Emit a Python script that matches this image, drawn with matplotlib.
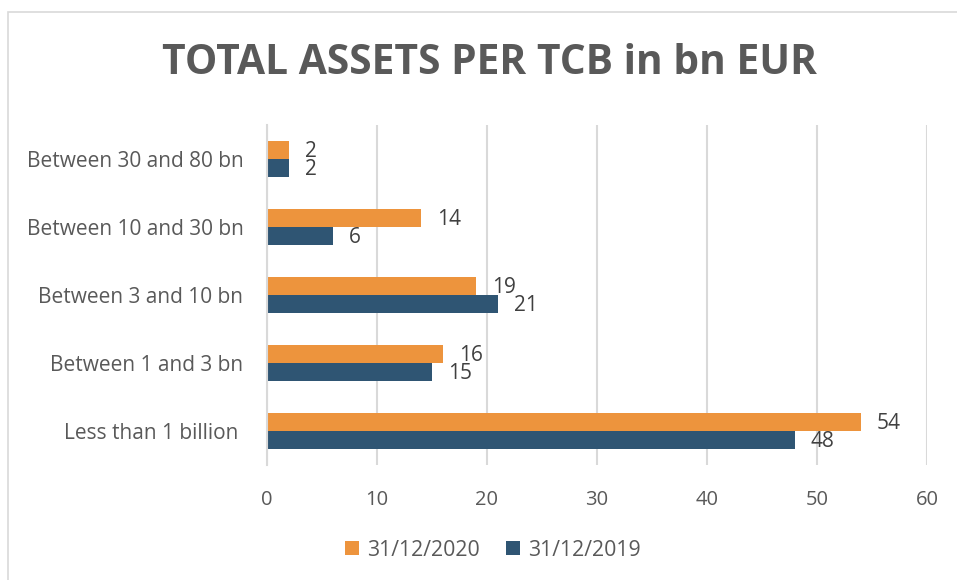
import matplotlib.pyplot as plt
import numpy as np
from matplotlib.patches import Rectangle

plt.rcParams["font.family"] = ["Open Sans", "DejaVu Sans"]

# Données (bn EUR)
categories = ["Less than 1 billion ", "Between 1 and 3 bn", "Between 3 and 10 bn",
              "Between 10 and 30 bn", "Between 30 and 80 bn"]
assets_2020 = [54, 16, 19, 14, 2]
assets_2019 = [48, 15, 21, 6, 2]
series_labels = ["31/12/2020", "31/12/2019"]
x_ticks = [0, 10, 20, 30, 40, 50, 60]

ORANGE = "#ED943D"
BLUE = "#2F5573"
GRID = "#D9D9D9"
TXT = "#595959"
LBL = "#404040"

fig = plt.figure(figsize=(9.57, 5.8), dpi=100)
ax = fig.add_axes([267 / 957, 1 - 465 / 580, 660 / 957, 340 / 580])

# cadre du graphique (bord gauche/haut visible)
fig.patches.append(Rectangle((8 / 957, -0.1), 1.2, 1 - 12 / 580 + 0.1,
                             transform=fig.transFigure, fill=False,
                             edgecolor=GRID, linewidth=1.2))

y = np.arange(len(categories))
h = 0.265
b20 = ax.barh(y + h / 2, assets_2020, height=h, color=ORANGE, label=series_labels[0])
b19 = ax.barh(y - h / 2, assets_2019, height=h, color=BLUE, label=series_labels[1])

for bars in (b20, b19):
    for rect in bars:
        w = rect.get_width()
        ax.annotate(f"{w:g}", (w, rect.get_y() + rect.get_height() / 2),
                    xytext=(11.5, -1), textcoords="offset points",
                    ha="left", va="center", fontsize=15, color=LBL)

ax.set_xlim(0, 60)
ax.set_ylim(-0.5, len(categories) - 0.5)
ax.set_xticks(x_ticks)
ax.set_yticks(y)
ax.set_yticklabels(categories)
ax.xaxis.grid(True, color=GRID, linewidth=1.5)
ax.set_axisbelow(True)
for s in ["top", "right", "bottom"]:
    ax.spines[s].set_visible(False)
ax.spines["left"].set_color(GRID)
ax.spines["left"].set_linewidth(1.5)
ax.tick_params(axis="x", length=0, pad=18, labelsize=14.5, labelcolor=TXT)
ax.tick_params(axis="y", length=0, pad=17, labelsize=15, labelcolor=TXT)

fig.text(489 / 957, 1 - 64 / 580, "TOTAL ASSETS PER TCB in bn EUR", ha="center",
         va="center", fontsize=29.3, fontweight="bold", color=TXT)

fig.legend(handles=[b20, b19], loc="center", bbox_to_anchor=(493 / 957, 1 - 550 / 580),
           ncol=2, frameon=False, fontsize=15.3, labelcolor=TXT,
           handlelength=0.65, handleheight=0.65, handletextpad=0.4, columnspacing=1.2)

plt.savefig("out.png", dpi=100)
